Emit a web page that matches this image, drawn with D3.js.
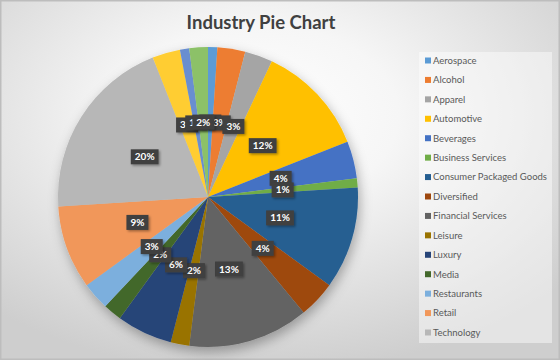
<!DOCTYPE html>
<html>
<head>
<meta charset="utf-8">
<script src="https://cdn.jsdelivr.net/npm/d3@7"></script>
<style>
  body { margin: 0; background: #fff; }
  svg { display: block; font-family: Lato, "Open Sans", sans-serif; }
</style>
</head>
<body>
<div id="chart"></div>
<script>
// Industry pie — shares in %, clockwise from 12 o'clock. Legend only lists the first 15 (the rest got cut off).
const categories = [
  "Aerospace", "Alcohol", "Apparel", "Automotive", "Beverages", "Business Services",
  "Consumer Packaged Goods", "Diversified", "Financial Services", "Leisure", "Luxury",
  "Media", "Restaurants", "Retail", "Technology", "Telecom", "Transportation", "Utilities"
];
const shares = [1, 3, 3, 12, 4, 1, 11, 4, 13, 2, 6, 2, 3, 9, 20, 3, 1, 2];
const colors = [
  "#5B9BD5", "#ED7D31", "#A5A5A5", "#FFC000", "#4472C4", "#70AD47",
  "#255E91", "#9E480E", "#636363", "#997300", "#264478", "#43682B",
  "#7CAFDD", "#F1975A", "#B7B7B7", "#FFCD33", "#698ED0", "#8CC168"
];
const legendCount = 15;

const width = 560, height = 360;
const cx = 208, cy = 197, radius = 150;

const svg = d3.select("#chart").append("svg")
  .attr("width", width).attr("height", height);

const defs = svg.append("defs");
const bg = defs.append("radialGradient").attr("id", "bg")
  .attr("cx", "46%").attr("cy", "32%").attr("r", "72%");
bg.append("stop").attr("offset", "0%").attr("stop-color", "#ffffff");
bg.append("stop").attr("offset", "35%").attr("stop-color", "#f6f6f6");
bg.append("stop").attr("offset", "100%").attr("stop-color", "#cecece");

const shadow = defs.append("filter").attr("id", "pieShadow")
  .attr("x", "-20%").attr("y", "-20%").attr("width", "140%").attr("height", "140%");
shadow.append("feDropShadow").attr("dx", 2).attr("dy", 5).attr("stdDeviation", 6)
  .attr("flood-color", "#000").attr("flood-opacity", 0.3);

const boxShadow = defs.append("filter").attr("id", "boxShadow")
  .attr("x", "-30%").attr("y", "-30%").attr("width", "160%").attr("height", "160%");
boxShadow.append("feDropShadow").attr("dx", 1.5).attr("dy", 1.5).attr("stdDeviation", 1)
  .attr("flood-color", "#000").attr("flood-opacity", 0.35);

// chart area
svg.append("rect")
  .attr("x", 0.75).attr("y", 0.75).attr("width", width - 1.5).attr("height", height - 1.5)
  .attr("fill", "url(#bg)").attr("stroke", "#bdbdbd").attr("stroke-width", 1.5);

svg.append("text")
  .attr("x", 261).attr("y", 29).attr("text-anchor", "middle")
  .attr("font-size", 18.5).attr("font-weight", "bold").attr("fill", "#404040")
  .text("Industry Pie Chart");

// pie
const data = categories.map((c, i) => ({ name: c, value: shares[i], color: colors[i] }));
const pie = d3.pie().value(d => d.value).sort(null);
const arc = d3.arc().innerRadius(0).outerRadius(radius);
const arcs = pie(data);

const gPie = svg.append("g").attr("transform", `translate(${cx},${cy})`);
gPie.append("g").attr("filter", "url(#pieShadow)")
  .selectAll("path").data(arcs).join("path")
    .attr("d", arc)
    .attr("fill", d => d.data.color);

// data labels, drawn in series order so later ones sit on top
const fmt = d3.format(".0f");
const gLab = gPie.append("g");
arcs.forEach(d => {
  const [lx, ly] = arc.centroid(d);
  const g = gLab.append("g").attr("transform", `translate(${lx},${ly})`);
  const rect = g.append("rect").attr("fill", "#3f3f3f").attr("filter", "url(#boxShadow)");
  const t = g.append("text")
    .attr("text-anchor", "middle").attr("dy", "0.35em")
    .attr("font-size", 10).attr("font-weight", "bold").attr("fill", "#fff")
    .text(fmt(d.data.value) + "%");
  const w = t.node().getComputedTextLength() + 8;
  rect.attr("x", -w / 2).attr("y", -7.5).attr("width", w).attr("height", 15);
});

// legend
const legendCats = categories.slice(0, legendCount);
const ly = d3.scalePoint().domain(legendCats).range([60.5, 332.5]);

svg.append("rect")
  .attr("x", 419).attr("y", 52).attr("width", 133).attr("height", 291)
  .attr("fill", "#ffffff").attr("fill-opacity", 0.45);

const gLeg = svg.append("g");
const items = gLeg.selectAll("g").data(legendCats).join("g")
  .attr("transform", d => `translate(425,${ly(d)})`);
items.append("rect")
  .attr("x", 0).attr("y", -3).attr("width", 6).attr("height", 6)
  .attr("fill", d => colors[categories.indexOf(d)]);
items.append("text")
  .attr("x", 8).attr("dy", "0.35em")
  .attr("font-size", 9.5).attr("fill", "#595959")
  .text(d => d);
</script>
</body>
</html>
